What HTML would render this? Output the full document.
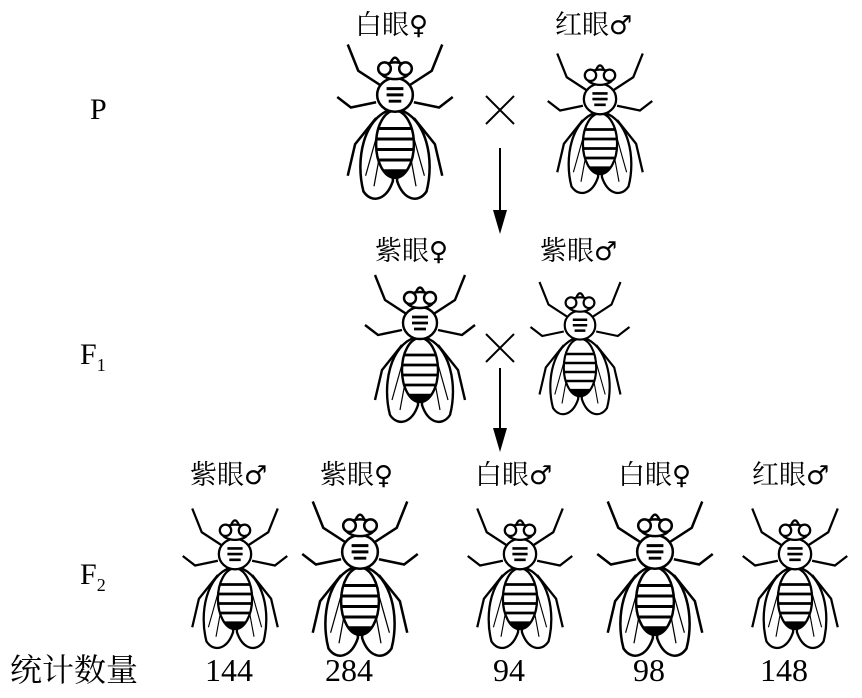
<!DOCTYPE html>
<html><head><meta charset="utf-8"><style>
body{margin:0;background:#fff;width:862px;height:698px;overflow:hidden;position:relative;font-family:"Liberation Serif","Noto Serif CJK SC",serif;}
.t{position:absolute;font-size:27px;color:#000;white-space:nowrap;line-height:1;}
.s{font-family:"DejaVu Sans",sans-serif;font-size:26px;}
</style></head><body>
<svg width="862" height="698" style="position:absolute;left:0;top:0">
<defs>
<g id="fly" stroke="#000" fill="none" stroke-width="2.4">
  <path d="M-12,-30 L-35,-45 L-45,-70"/><path d="M12,-30 L35,-45 L45,-70"/>
  <path d="M-18,-15 L-42,-10 L-55,-20"/><path d="M18,-15 L42,-10 L55,-20"/>
  <path d="M-18,0 L-38,25 L-45,55"/><path d="M18,0 L38,25 L45,55"/>
  <path d="M-4,-8 C-30,0 -38,40 -30,70 C-22,82 -8,78 -2,60 Z" fill="#fff"/>
  <path d="M4,-8 C30,0 38,40 30,70 C22,82 8,78 2,60 Z" fill="#fff"/>
  <path d="M-8,0 L-20,65 M-14,5 L-28,55 M8,0 L20,65 M14,5 L28,55" stroke-width="1.2"/>
  <ellipse cx="0" cy="25" rx="18" ry="32" fill="#fff"/>
  <path d="M-16,10 H16 M-17,20 H17 M-17,30 H17 M-15,40 H15" stroke-width="2.8"/>
  <path d="M-10,50 Q0,60 10,50 Z" fill="#000"/>
  <ellipse cx="0" cy="-22" rx="17" ry="16" fill="#fff"/>
  <path d="M-8,-28 l16,0 M-8,-22 l16,0 M-6,-16 l12,0" stroke-width="2.8"/>
  <ellipse cx="0" cy="-45" rx="14" ry="8" fill="#fff"/>
  <ellipse cx="-10" cy="-47" rx="6" ry="6" fill="#fff"/>
  <ellipse cx="10" cy="-47" rx="6" ry="6" fill="#fff"/>
  <path d="M-4,-53 Q0,-62 4,-53" />
</g>
</defs>
<use href="#fly" transform="translate(395,118) scale(1.05)"/>
<use href="#fly" transform="translate(600,120) scale(0.95)"/>
<use href="#fly" transform="translate(420,345) scale(1.0)"/>
<use href="#fly" transform="translate(580,345) scale(0.9)"/>
<use href="#fly" transform="translate(235,575) scale(0.95)"/>
<use href="#fly" transform="translate(360,575) scale(1.05)"/>
<use href="#fly" transform="translate(520,575) scale(0.95)"/>
<use href="#fly" transform="translate(655,575) scale(1.05)"/>
<use href="#fly" transform="translate(795,575) scale(0.95)"/>
<g stroke="#000" stroke-width="2">
<path d="M486,96 L514,124 M514,96 L486,124"/>
<path d="M486,334 L514,362 M514,334 L486,362"/>
<line x1="500" y1="148" x2="500" y2="215"/>
<line x1="500" y1="368" x2="500" y2="433"/>
</g>
<path d="M493,210 L507,210 L500,234 Z"/>
<path d="M493,428 L507,428 L500,452 Z"/>
</svg>
<div class="t" style="left:355px;top:12px">白眼<span class="s">♀</span></div>
<div class="t" style="left:555px;top:12px">红眼<span class="s">♂</span></div>
<div class="t" style="left:90px;top:95px;font-size:30px">P</div>
<div class="t" style="left:375px;top:238px">紫眼<span class="s">♀</span></div>
<div class="t" style="left:540px;top:238px">紫眼<span class="s">♂</span></div>
<div class="t" style="left:80px;top:340px;font-size:30px">F<sub style="font-size:18px">1</sub></div>
<div class="t" style="left:190px;top:462px">紫眼<span class="s">♂</span></div>
<div class="t" style="left:320px;top:462px">紫眼<span class="s">♀</span></div>
<div class="t" style="left:475px;top:462px">白眼<span class="s">♂</span></div>
<div class="t" style="left:618px;top:462px">白眼<span class="s">♀</span></div>
<div class="t" style="left:752px;top:462px">红眼<span class="s">♂</span></div>
<div class="t" style="left:80px;top:560px;font-size:30px">F<sub style="font-size:18px">2</sub></div>
<div class="t" style="left:10px;top:654px;font-size:32px">统计数量</div>
<div class="t" style="left:205px;top:654px;font-size:32px">144</div>
<div class="t" style="left:325px;top:654px;font-size:32px">284</div>
<div class="t" style="left:493px;top:654px;font-size:32px">94</div>
<div class="t" style="left:633px;top:654px;font-size:32px">98</div>
<div class="t" style="left:760px;top:654px;font-size:32px">148</div>
</body></html>
